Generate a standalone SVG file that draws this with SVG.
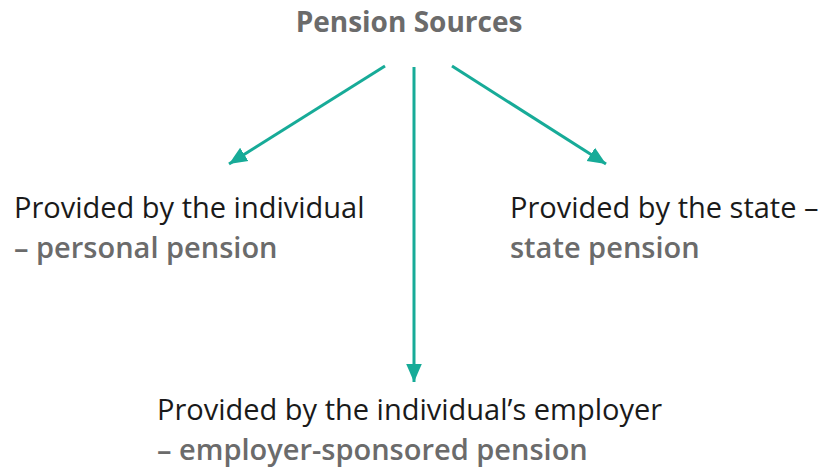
<svg xmlns="http://www.w3.org/2000/svg" width="819" height="470" viewBox="0 0 819 470">
<style>
text{font-family:"Open Sans","Noto Sans","Liberation Sans",sans-serif;}
.t{font-size:28px;font-weight:bold;fill:#6b6b6b;}
.r{font-size:29px;fill:#1a1a1a;}
.b{font-size:29px;font-weight:600;fill:#6b6b6b;}
.c{stroke:#17ab98;stroke-width:3;fill:none;marker-end:url(#ah);}
</style>
<defs>
<marker id="ah" markerWidth="8" markerHeight="8" refX="6" refY="4" orient="auto" markerUnits="strokeWidth">
<path d="M0,1.4 L6,4 L0,6.6 Z" fill="#17ab98"/>
</marker>
</defs>
<rect width="819" height="470" fill="#ffffff"/>
<g id="connectors">
<line class="c" x1="385" y1="66" x2="229" y2="164"/>
<line class="c" x1="414" y1="67" x2="414" y2="382"/>
<line class="c" x1="452" y1="66" x2="606" y2="164"/>
</g>
<g id="root"><text class="t" x="409" y="32" text-anchor="middle">Pension Sources</text></g>
<g id="individual">
<text class="r" x="14" y="218">Provided by the individual</text>
<text class="b" x="14" y="258">– personal pension</text>
</g>
<g id="state">
<text class="r" x="510" y="218">Provided by the state –</text>
<text class="b" x="510" y="258">state pension</text>
</g>
<g id="employer">
<text class="r" x="157" y="420">Provided by the individual’s employer</text>
<text class="b" x="157" y="460">– employer-sponsored pension</text>
</g>
</svg>
